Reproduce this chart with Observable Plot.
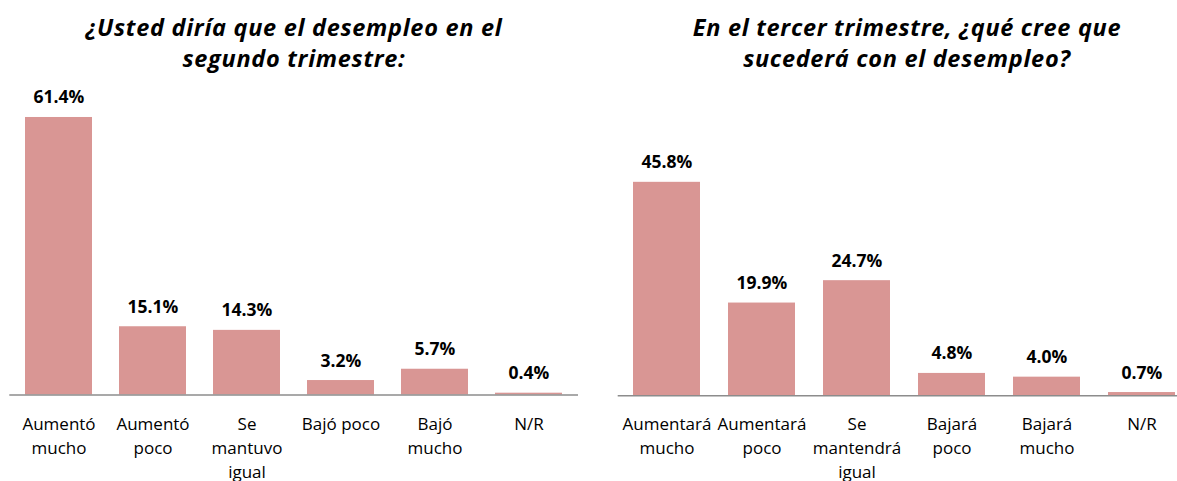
<!DOCTYPE html>
<html>
<head>
<meta charset="utf-8">
<script src="https://cdn.jsdelivr.net/npm/d3@7"></script>
<script src="https://cdn.jsdelivr.net/npm/@observablehq/plot@0.6"></script>
<style>
  html, body { margin: 0; padding: 0; background: #fff; }
  #wrap { position: relative; width: 1177px; height: 481px; overflow: hidden; background: #fff; }
  .title {
    position: absolute; top: 12px; transform: translateX(-50%);
    font-family: "Open Sans", Lato, sans-serif; font-weight: 700; font-style: italic;
    font-size: 23.5px; line-height: 31px; color: #000; text-align: center; white-space: nowrap;
    letter-spacing: 0.7px;
  }
  .panel { position: absolute; top: 90px; }
  .panel svg { max-width: none !important; }
</style>
</head>
<body>
<div id="wrap">
  <div class="title" style="left:294px">¿Usted diría que el desempleo en el<br>segundo trimestre:</div>
  <div class="title" style="left:907px">En el tercer trimestre, ¿qué cree que<br>sucederá con el desempleo?</div>
  <div id="p1" class="panel" style="left:0px; width:578px"></div>
  <div id="p2" class="panel" style="left:590px; width:601px"></div>
</div>
<script>
const leftCategories = ["Aumentó mucho", "Aumentó poco", "Se mantuvo igual", "Bajó poco", "Bajó mucho", "N/R"];
const leftTickLabels = ["Aumentó\nmucho", "Aumentó\npoco", "Se\nmantuvo\nigual", "Bajó poco", "Bajó\nmucho", "N/R"];
const leftValues = [61.4, 15.1, 14.3, 3.2, 5.7, 0.4];

const rightCategories = ["Aumentará mucho", "Aumentará poco", "Se mantendrá igual", "Bajará poco", "Bajará mucho", "N/R"];
const rightTickLabels = ["Aumentará\nmucho", "Aumentará\npoco", "Se\nmantendrá\nigual", "Bajará\npoco", "Bajará\nmucho", "N/R"];
const rightValues = [45.8, 19.9, 24.7, 4.8, 4.0, 0.7];

function panel(categories, tickLabels, values, o) {
  const data = categories.map((c, i) => ({cat: c, tick: tickLabels[i], value: values[i]}));
  return Plot.plot({
    width: o.width,
    height: 391,
    marginTop: 0,
    marginBottom: o.marginBottom,
    marginLeft: o.marginLeft,
    marginRight: o.marginRight,
    style: {fontFamily: "'Open Sans', sans-serif", background: "transparent", overflow: "visible", maxWidth: "none"},
    x: {domain: categories, paddingInner: 0.29, paddingOuter: 0.145, axis: null},
    y: {domain: [0, o.ymax], axis: null},
    marks: [
      Plot.barY(data, {x: "cat", y: "value", fill: "#D99694"}),
      Plot.ruleY([0], {stroke: "#8c8c8c", strokeWidth: 1.5}),
      Plot.text(data, {
        x: "cat", y: "value", text: d => d.value.toFixed(1) + "%",
        lineAnchor: "bottom", dy: -14, fontWeight: "bold", fontSize: 17.5, fill: "#000"
      }),
      Plot.text(data, {
        x: "cat", text: "tick", frameAnchor: "bottom", lineAnchor: "top",
        dy: 17.5, fontSize: 17, lineHeight: 24 / 17, fill: "#000"
      })
    ]
  });
}

document.getElementById("p1").append(panel(leftCategories, leftTickLabels, leftValues,
  {width: 578, marginLeft: 9.3, marginRight: 0, marginBottom: 86.5, ymax: 67.37}));
document.getElementById("p2").append(panel(rightCategories, rightTickLabels, rightValues,
  {width: 601, marginLeft: 27.7, marginRight: 0.6, marginBottom: 85.7, ymax: 65.5}));
</script>
</body>
</html>
